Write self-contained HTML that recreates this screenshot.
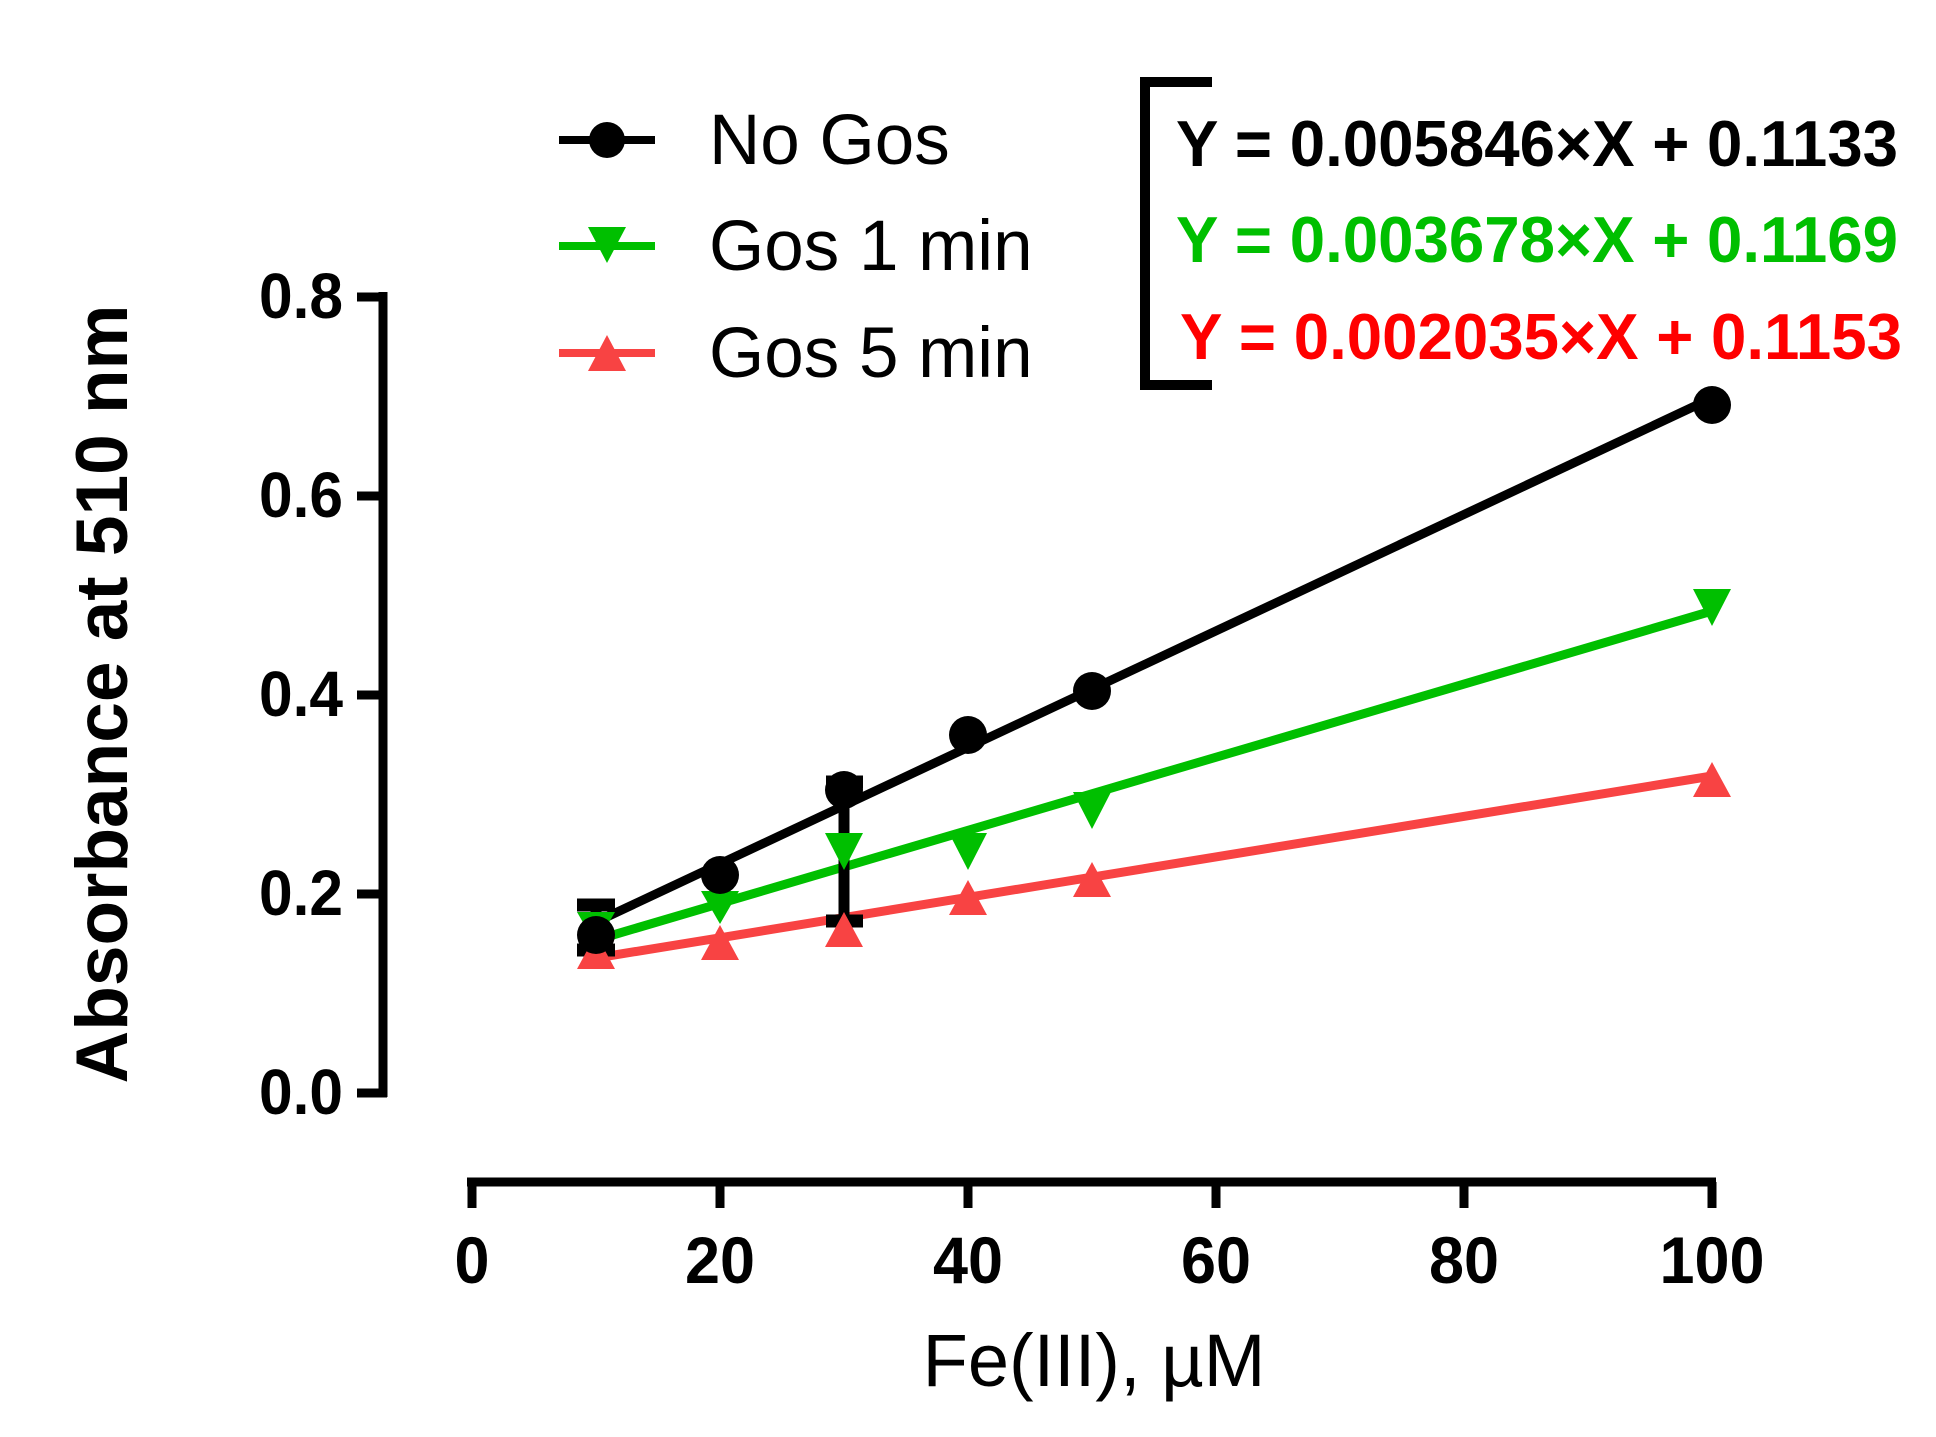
<!DOCTYPE html>
<html><head><meta charset="utf-8"><style>
html,body{margin:0;padding:0;background:#fff;}
svg{display:block;}
text{font-family:"Liberation Sans",Arial,sans-serif;}
</style></head><body>
<svg width="1936" height="1437" viewBox="0 0 1936 1437" xmlns="http://www.w3.org/2000/svg">
<g stroke="#000" stroke-width="9" fill="none">
<line x1="383" y1="292" x2="383" y2="1097"/>
<line x1="357" y1="297" x2="387" y2="297"/>
<line x1="357" y1="496" x2="387" y2="496"/>
<line x1="357" y1="695" x2="387" y2="695"/>
<line x1="357" y1="894" x2="387" y2="894"/>
<line x1="357" y1="1093" x2="387" y2="1093"/>
<line x1="467" y1="1182" x2="1716" y2="1182"/>
<line x1="472" y1="1182" x2="472" y2="1208"/>
<line x1="720" y1="1182" x2="720" y2="1208"/>
<line x1="968" y1="1182" x2="968" y2="1208"/>
<line x1="1216" y1="1182" x2="1216" y2="1208"/>
<line x1="1464" y1="1182" x2="1464" y2="1208"/>
<line x1="1712" y1="1182" x2="1712" y2="1208"/>
</g>
<g font-weight="bold" font-size="64" text-anchor="end" fill="#000">
<text x="343" y="318" textLength="84" lengthAdjust="spacingAndGlyphs">0.8</text>
<text x="343" y="517" textLength="84" lengthAdjust="spacingAndGlyphs">0.6</text>
<text x="343" y="716" textLength="84" lengthAdjust="spacingAndGlyphs">0.4</text>
<text x="343" y="915" textLength="84" lengthAdjust="spacingAndGlyphs">0.2</text>
<text x="343" y="1114" textLength="84" lengthAdjust="spacingAndGlyphs">0.0</text>
</g>
<g font-weight="bold" font-size="66" text-anchor="middle" fill="#000">
<text x="472" y="1283" textLength="35" lengthAdjust="spacingAndGlyphs">0</text>
<text x="720" y="1283" textLength="70" lengthAdjust="spacingAndGlyphs">20</text>
<text x="968" y="1283" textLength="70" lengthAdjust="spacingAndGlyphs">40</text>
<text x="1216" y="1283" textLength="70" lengthAdjust="spacingAndGlyphs">60</text>
<text x="1464" y="1283" textLength="70" lengthAdjust="spacingAndGlyphs">80</text>
<text x="1712" y="1283" textLength="105" lengthAdjust="spacingAndGlyphs">100</text>
</g>
<text x="1094" y="1386" font-size="74" text-anchor="middle">Fe(III), µM</text>
<text transform="translate(127,694) rotate(-90)" font-size="73" font-weight="bold" text-anchor="middle">Absorbance at 510 nm</text>

<line x1="596" y1="922" x2="1712" y2="398" stroke="#000" stroke-width="9"/>
<line x1="596" y1="940" x2="1712" y2="611" stroke="#00BF00" stroke-width="9"/>
<line x1="596" y1="958" x2="1712" y2="776" stroke="#F84343" stroke-width="9"/>

<g stroke="#000" stroke-width="11">
<line x1="596" y1="905" x2="596" y2="950"/>
<line x1="577" y1="905" x2="615" y2="905" stroke-width="13"/>
<line x1="577" y1="950" x2="615" y2="950" stroke-width="13"/>
<line x1="844" y1="777" x2="844" y2="922"/>
<line x1="826" y1="782" x2="863" y2="782" stroke-width="13"/>
<line x1="826" y1="921" x2="863" y2="921" stroke-width="13"/>
</g>

<g fill="#F84343">
<polygon points="577,969 615,969 596,934"/>
<polygon points="701,960 739,960 720,925"/>
<polygon points="825,947 863,947 844,912"/>
<polygon points="949,915 987,915 968,880"/>
<polygon points="1073,897 1111,897 1092,862"/>
<polygon points="1693,797 1731,797 1712,762"/>
</g>
<g fill="#00BF00">
<polygon points="577,912 615,912 596,945"/>
<polygon points="701,891 739,891 720,924"/>
<polygon points="825,833 863,833 844,870"/>
<polygon points="949,833 987,833 968,870"/>
<polygon points="1073,792 1111,792 1092,829"/>
<polygon points="1693,589 1731,589 1712,626"/>
</g>
<g fill="#000">
<circle cx="596" cy="935" r="19"/>
<circle cx="720" cy="875" r="19"/>
<circle cx="844" cy="790" r="19"/>
<circle cx="968" cy="735" r="19"/>
<circle cx="1092" cy="691" r="19"/>
<circle cx="1712" cy="405" r="19"/>
</g>

<line x1="559" y1="140" x2="655" y2="140" stroke="#000" stroke-width="8"/>
<circle cx="607" cy="140" r="18" fill="#000"/>
<line x1="559" y1="246" x2="655" y2="246" stroke="#00BF00" stroke-width="8"/>
<polygon points="588,227 626,227 607,263" fill="#00BF00"/>
<line x1="559" y1="353" x2="655" y2="353" stroke="#F84343" stroke-width="8"/>
<polygon points="588,371 626,371 607,335" fill="#F84343"/>
<g font-size="71" fill="#000">
<text x="709" y="164">No Gos</text>
<text x="709" y="270">Gos 1 min</text>
<text x="709" y="377">Gos 5 min</text>
</g>

<polyline points="1212,82 1145,82 1145,385 1212,385" fill="none" stroke="#000" stroke-width="10"/>
<g font-weight="bold" font-size="65">
<text x="1176" y="166" textLength="722" lengthAdjust="spacingAndGlyphs" fill="#000">Y = 0.005846×X + 0.1133</text>
<text x="1176" y="262" textLength="722" lengthAdjust="spacingAndGlyphs" fill="#00BF00">Y = 0.003678×X + 0.1169</text>
<text x="1180" y="359" textLength="722" lengthAdjust="spacingAndGlyphs" fill="#FF0000">Y = 0.002035×X + 0.1153</text>
</g>
</svg>
</body></html>
